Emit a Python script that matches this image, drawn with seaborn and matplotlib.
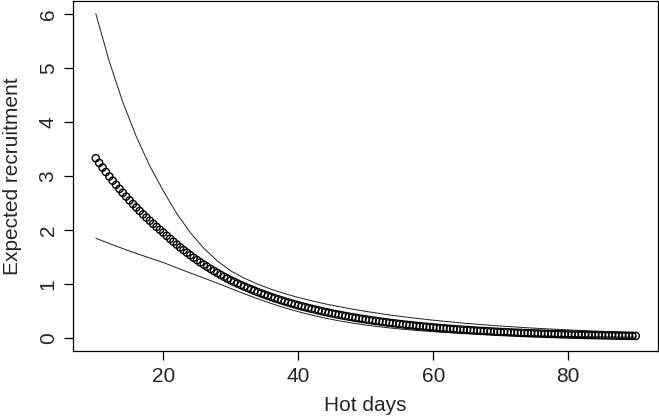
import numpy as np
import pandas as pd
import matplotlib
matplotlib.use("Agg")
import matplotlib.pyplot as plt
import seaborn as sns

# ---- data ----
# expected recruitment (circles), x = 10, 10.5, ..., 90
hot_days_pts = np.arange(10, 90.5, 0.5)
expected = [
    3.330, 3.242, 3.157, 3.073, 2.992, 2.913, 2.836, 2.761, 2.688, 2.618,
    2.548, 2.481, 2.416, 2.352, 2.290, 2.229, 2.171, 2.113, 2.057, 2.003,
    1.950, 1.892, 1.836, 1.781, 1.728, 1.676, 1.626, 1.578, 1.531, 1.485,
    1.441, 1.398, 1.356, 1.316, 1.277, 1.239, 1.202, 1.166, 1.131, 1.098,
    1.065, 1.035, 1.006, 0.978, 0.950, 0.924, 0.898, 0.872, 0.848, 0.824,
    0.801, 0.778, 0.757, 0.735, 0.715, 0.695, 0.675, 0.656, 0.638, 0.620,
    0.602, 0.585, 0.569, 0.553, 0.537, 0.522, 0.508, 0.493, 0.479, 0.466,
    0.453, 0.440, 0.428, 0.416, 0.404, 0.393, 0.382, 0.371, 0.361, 0.350,
    0.341, 0.331, 0.322, 0.313, 0.304, 0.295, 0.287, 0.279, 0.271, 0.264,
    0.256, 0.249, 0.242, 0.235, 0.229, 0.222, 0.216, 0.210, 0.204, 0.198,
    0.193, 0.187, 0.182, 0.177, 0.172, 0.167, 0.162, 0.158, 0.153, 0.149,
    0.145, 0.141, 0.137, 0.133, 0.129, 0.126, 0.122, 0.119, 0.115, 0.112,
    0.109, 0.106, 0.103, 0.100, 0.097, 0.094, 0.092, 0.089, 0.087, 0.084,
    0.082, 0.080, 0.077, 0.075, 0.073, 0.071, 0.069, 0.067, 0.065, 0.063,
    0.062, 0.060, 0.058, 0.057, 0.055, 0.053, 0.052, 0.050, 0.049, 0.048,
    0.046, 0.045, 0.044, 0.043, 0.041, 0.040, 0.039, 0.038, 0.037, 0.036,
    0.035,
]

# confidence band lines, x = 10, 12, ..., 90
hot_days_ci = np.arange(10, 91, 2)
upper = [
    6.007, 5.122, 4.369, 3.730, 3.186, 2.724, 2.302, 1.951, 1.660, 1.426,
    1.240, 1.105, 0.994, 0.900, 0.819, 0.748, 0.686, 0.629, 0.579, 0.532,
    0.490, 0.452, 0.416, 0.384, 0.354, 0.327, 0.302, 0.278, 0.257, 0.237,
    0.219, 0.202, 0.186, 0.172, 0.159, 0.147, 0.136, 0.125, 0.116, 0.107,
    0.099,
]
lower = [
    1.846, 1.748, 1.654, 1.565, 1.479, 1.396, 1.297, 1.202, 1.108, 1.013,
    0.915, 0.817, 0.723, 0.636, 0.556, 0.485, 0.421, 0.365, 0.316, 0.274,
    0.237, 0.205, 0.177, 0.153, 0.132, 0.114, 0.098, 0.085, 0.073, 0.063,
    0.054, 0.047, 0.040, 0.035, 0.030, 0.026, 0.022, 0.019, 0.017, 0.014,
    0.012,
]

x_ticks = [20, 40, 60, 80]
y_ticks = [0, 1, 2, 3, 4, 5, 6]

pts = pd.DataFrame({"Hot days": hot_days_pts, "Expected recruitment": expected})
ci = pd.DataFrame({"Hot days": hot_days_ci, "upper": upper, "lower": lower})

sns.set_style("white")
plt.rcParams["font.family"] = ["Liberation Sans", "DejaVu Sans"]

fig = plt.figure(figsize=(6.59, 4.17), dpi=100)
ax = fig.add_axes([73 / 659, 1 - 351.3 / 417, 585 / 659, 350.6 / 417])

sns.lineplot(data=ci, x="Hot days", y="upper", ax=ax, color="#202020", lw=0.7)
sns.lineplot(data=ci, x="Hot days", y="lower", ax=ax, color="#202020", lw=0.7)
sns.scatterplot(data=pts, x="Hot days", y="Expected recruitment", ax=ax,
                marker="o", s=27, facecolors="none", edgecolors="black",
                linewidths=1.0, zorder=3)

ax.set_xlim(6.62, 93.3)
ax.set_ylim(-0.25, 6.25)
ax.set_xticks(x_ticks)
ax.set_yticks(y_ticks)
ax.set_xticklabels([str(t) for t in x_ticks])
ax.set_yticklabels([str(t) for t in y_ticks], rotation=90, va="center")

for s in ax.spines.values():
    s.set_visible(True)
    s.set_color("black")
    s.set_linewidth(0.9)

ax.tick_params(axis="both", which="major", direction="out", length=6.5,
               width=0.9, color="black", labelsize=15, pad=4.5,
               bottom=True, left=True)
ax.set_xlabel("Hot days", fontsize=15)
ax.set_ylabel("Expected recruitment", fontsize=15)
ax.xaxis.set_label_coords(0.5, -0.128)
ax.yaxis.set_label_coords(-0.088, 0.5)

fig.savefig("out.png", dpi=100)
